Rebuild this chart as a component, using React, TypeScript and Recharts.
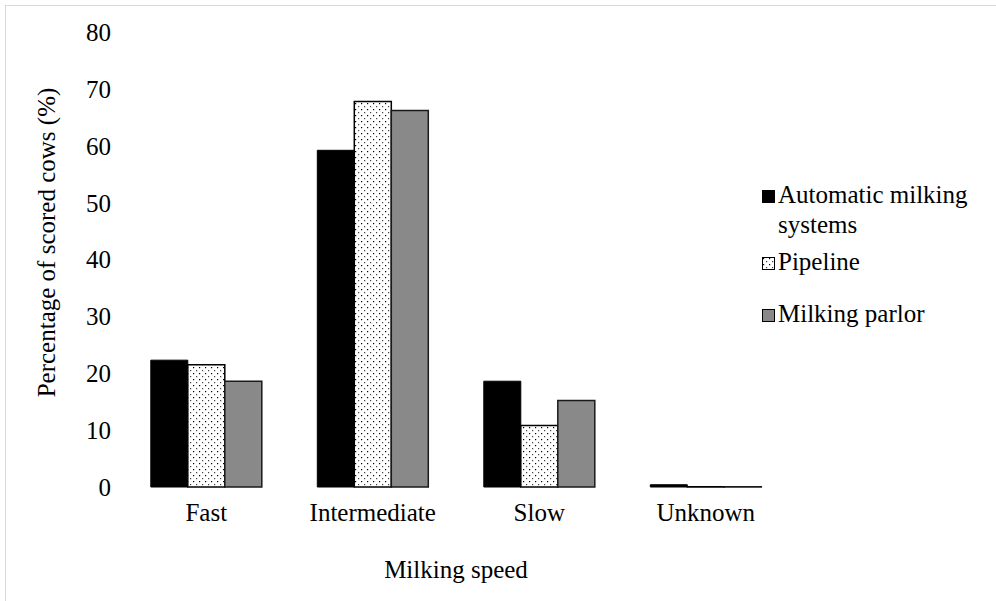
import React from "react";
import { BarChart, Bar, XAxis, YAxis, Legend } from "recharts";

const categories = ["Fast", "Intermediate", "Slow", "Unknown"];
const automatic = [22.3, 59.2, 18.6, 0.4];
const pipeline = [21.5, 67.8, 10.8, 0.05];
const parlor = [18.6, 66.2, 15.2, 0.05];
const yTicks = [0, 10, 20, 30, 40, 50, 60, 70, 80];

const seriesNames = ["Automatic milking systems", "Pipeline", "Milking parlor"];

const data = categories.map((c, i) => ({
  name: c,
  ams: automatic[i],
  pipe: pipeline[i],
  parlor: parlor[i],
}));

const FONT = "'Liberation Serif', 'Times New Roman', serif";
const FS = 25;

const LegendContent = () => {
  const items = [
    { fill: "#000000", dotted: false, lines: ["Automatic milking", "systems"], gap: 7 },
    { fill: "#ffffff", dotted: true, lines: ["Pipeline"], gap: 22 },
    { fill: "#898989", dotted: false, lines: ["Milking parlor"], gap: 0 },
  ];
  return (
    <div style={{ fontFamily: FONT, fontSize: FS, color: "#000", lineHeight: "30px", whiteSpace: "nowrap" }}>
      {items.map((it, i) => (
        <div key={i} style={{ display: "flex", alignItems: "flex-start", marginBottom: it.gap }}>
          <svg width={13} height={13} style={{ marginTop: 10, marginRight: 3, flexShrink: 0 }}>
            <rect
              x={0.5}
              y={0.5}
              width={12}
              height={12}
              fill={it.dotted ? "url(#dots)" : it.fill}
              stroke="#000"
              strokeWidth={1}
            />
          </svg>
          <div>
            {it.lines.map((l, j) => (
              <div key={j}>{l}</div>
            ))}
          </div>
        </div>
      ))}
    </div>
  );
};

export default function App() {
  return (
    <div style={{ position: "absolute", left: 0, top: 0, width: 996, height: 601, background: "#fff" }}>
      <div
        style={{
          position: "absolute",
          left: 5,
          top: 5,
          right: 0,
          bottom: 0,
          borderLeft: "1px solid #d9d9d9",
          borderTop: "1px solid #d9d9d9",
        }}
      />
      <BarChart
        width={996}
        height={601}
        data={data}
        margin={{ top: 32, right: 207, bottom: 14, left: 0 }}
        barGap={0}
        barCategoryGap="16.7%"
        style={{ fontFamily: FONT }}
      >
        <defs>
          <pattern id="dots" width="6" height="6" patternUnits="userSpaceOnUse">
            <rect x="0" y="0" width="6" height="6" fill="#ffffff" />
            <rect x="1" y="1" width="1.2" height="1.2" fill="#000000" />
            <rect x="4" y="4" width="1.2" height="1.2" fill="#444444" />
          </pattern>
        </defs>
        <XAxis
          dataKey="name"
          axisLine={false}
          tickLine={false}
          tickSize={0}
          tickMargin={16}
          height={100}
          interval={0}
          tick={{ fill: "#000", fontSize: FS, fontFamily: FONT }}
          label={{
            value: "Milking speed",
            position: "insideBottom",
            offset: 9,
            fill: "#000",
            fontSize: FS,
            fontFamily: FONT,
          }}
        />
        <YAxis
          domain={[0, 80]}
          ticks={yTicks}
          width={123}
          axisLine={false}
          tickLine={false}
          tickSize={0}
          tickMargin={12}
          tick={{ fill: "#000", fontSize: FS, fontFamily: FONT }}
          label={{
            value: "Percentage of scored cows (%)",
            angle: -90,
            position: "insideLeft",
            offset: 46,
            dy: -17,
            fill: "#000",
            fontSize: FS,
            fontFamily: FONT,
            style: { textAnchor: "middle" },
          }}
        />
        <Legend
          layout="horizontal"
          verticalAlign="middle"
          align="center"
          content={<LegendContent />}
          wrapperStyle={{ left: 762, top: 180, width: 230, right: "auto", bottom: "auto" }}
        />
        <Bar dataKey="ams" name={seriesNames[0]} fill="#000000" stroke="#000000" strokeWidth={1} isAnimationActive={false} />
        <Bar dataKey="pipe" name={seriesNames[1]} fill="url(#dots)" stroke="#000000" strokeWidth={1.5} isAnimationActive={false} />
        <Bar dataKey="parlor" name={seriesNames[2]} fill="#898989" stroke="#1a1a1a" strokeWidth={1.5} isAnimationActive={false} />
      </BarChart>
    </div>
  );
}
